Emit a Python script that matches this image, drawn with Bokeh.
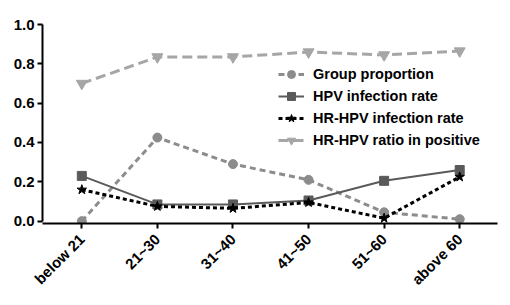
import math
from bokeh.plotting import figure
from bokeh.models import FixedTicker, Range1d, Legend, LegendItem, PrintfTickFormatter
from bokeh.embed import file_html
from bokeh.resources import INLINE

categories = ["below 21", "21~30", "31~40", "41~50", "51~60", "above 60"]
group_proportion = [0.0, 0.425, 0.29, 0.21, 0.045, 0.01]
hpv_rate = [0.23, 0.085, 0.085, 0.105, 0.205, 0.26]
hrhpv_rate = [0.16, 0.075, 0.065, 0.095, 0.015, 0.225]
hrhpv_ratio = [0.70, 0.835, 0.835, 0.86, 0.845, 0.865]
y_ticks = [0.0, 0.2, 0.4, 0.6, 0.8, 1.0]

xs = list(range(len(categories)))
FONT = "Liberation Sans"

p = figure(width=510, height=305, output_backend="svg", toolbar_location=None,
           x_range=Range1d(-0.52, 5.5), y_range=Range1d(-0.012, 1.0),
           min_border_left=42, min_border_right=13, min_border_top=24, min_border_bottom=82)
p.outline_line_color = None
p.grid.grid_line_color = None
p.background_fill_color = "white"
p.border_fill_color = "white"

for ax in (p.xaxis[0], p.yaxis[0]):
    ax.axis_line_width = 2
    ax.axis_line_color = "black"
    ax.major_tick_line_width = 2
    ax.major_tick_out = 5
    ax.major_tick_in = 0
    ax.minor_tick_line_color = None
    ax.major_label_text_font = FONT
    ax.major_label_text_font_style = "bold"
    ax.major_label_text_font_size = "15px"
    ax.major_label_text_color = "black"

p.yaxis[0].ticker = FixedTicker(ticks=y_ticks)
p.yaxis[0].formatter = PrintfTickFormatter(format="%.1f")
p.yaxis[0].bounds = (0, 1)
p.yaxis[0].major_label_standoff = 3

p.xaxis[0].ticker = FixedTicker(ticks=xs)
p.xaxis[0].major_label_overrides = {i: c for i, c in enumerate(categories)}
p.xaxis[0].major_label_orientation = math.pi / 4
p.xaxis[0].major_label_standoff = 8

# series
l1 = p.line(xs, group_proportion, line_color="#8c8c8c", line_width=3, line_dash="6 4")
m1 = p.scatter(xs, group_proportion, marker="circle", size=9, fill_color="#8c8c8c", line_color="#8c8c8c")

l2 = p.line(xs, hpv_rate, line_color="#5a5a5a", line_width=2)
m2 = p.scatter(xs, hpv_rate, marker="square", size=9, fill_color="#5a5a5a", line_color="#5a5a5a")

l3 = p.line(xs, hrhpv_rate, line_color="black", line_width=3, line_dash="4 3")
m3 = p.scatter(xs, hrhpv_rate, marker="star", size=10, fill_color="black", line_color="black")

l4 = p.line(xs, hrhpv_ratio, line_color="#a6a6a6", line_width=3, line_dash="10 5")
m4 = p.scatter(xs, hrhpv_ratio, marker="inverted_triangle", size=11, fill_color="#a6a6a6", line_color="#a6a6a6")

legend = Legend(items=[
    LegendItem(label="Group proportion", renderers=[l1, m1]),
    LegendItem(label="HPV infection rate", renderers=[l2, m2]),
    LegendItem(label="HR-HPV infection rate", renderers=[l3, m3]),
    LegendItem(label="HR-HPV ratio in positive", renderers=[l4, m4]),
], location=(236, 73))
legend.border_line_color = None
legend.background_fill_alpha = 0
legend.padding = 0
legend.margin = 0
legend.spacing = 2
legend.glyph_width = 26
legend.glyph_height = 20
legend.label_height = 20
legend.label_standoff = 9
legend.label_text_font = FONT
legend.label_text_font_style = "bold"
legend.label_text_font_size = "14.5px"
legend.label_text_color = "black"
p.add_layout(legend, "center")

open("out.html", "w").write(file_html(p, INLINE))
